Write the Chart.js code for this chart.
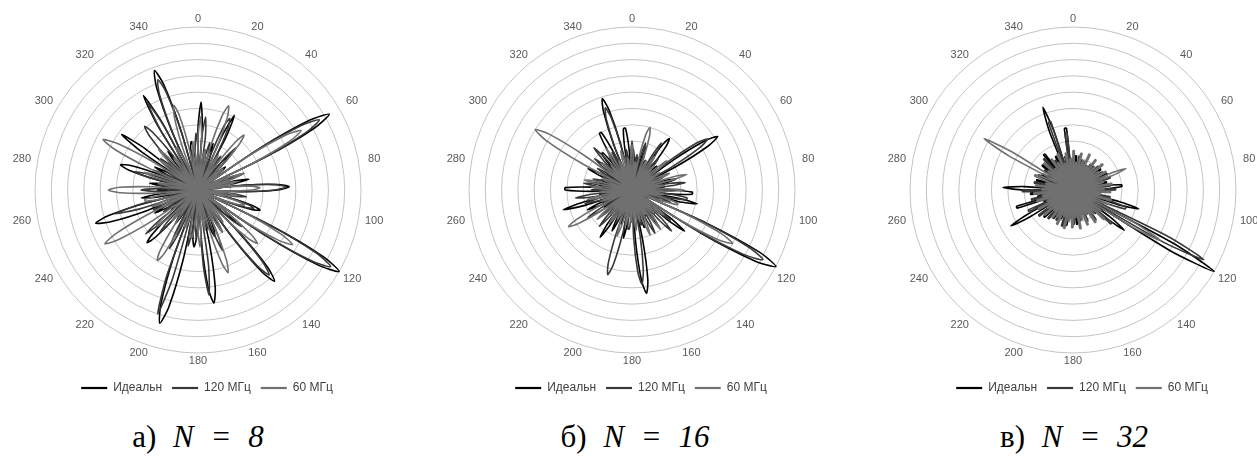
<!DOCTYPE html>
<html>
<head>
<meta charset="utf-8">
<script src="https://cdn.jsdelivr.net/npm/chart.js@4.4.0/dist/chart.umd.min.js"></script>
<style>
  body { margin: 0; width: 1257px; height: 474px; overflow: hidden; background: #fff; position: relative; }
  .plot { position: absolute; top: 0; width: 400px; height: 404px; }
  .cap { position: absolute; top: 419px; width: 300px; text-align: center; font-family: "Liberation Serif", serif; font-size: 31px; word-spacing: 9px; color: #000; line-height: 36px; }
</style>
</head>
<body>
<div class="plot" style="left:-2px"><canvas id="chart8" width="400" height="404"></canvas></div>
<div class="plot" style="left:432px"><canvas id="chart16" width="400" height="404"></canvas></div>
<div class="plot" style="left:873px"><canvas id="chart32" width="400" height="404"></canvas></div>
<div class="cap" style="left:48px">а) <i>N = 8</i></div>
<div class="cap" style="left:485px">б) <i>N = 16</i></div>
<div class="cap" style="left:924px">в) <i>N = 32</i></div>
<script>
// angle labels shown around each plot
const angleTicks = [0, 20, 40, 60, 80, 100, 120, 140, 160, 180, 200, 220, 240, 260, 280, 300, 320, 340];
const seriesNames = ['Идеальн', '120 МГц', '60 МГц'];

// pattern samples every 2 degrees, one row = 20 degrees
const ideal8 = [
  3.8,5.4,3.8,0,1.8,2.5,1.8,0,2.1,3.0,
  2.1,0,3.6,5.1,3.6,0,1.4,2.0,1.4,0,
  2.1,3.0,2.1,0,1.5,2.2,1.5,0,4.7,8.1,
  9.3,8.1,4.7,0,1.8,2.5,1.8,0,2.2,3.2,
  2.2,0,2.8,4.9,5.6,4.9,2.8,0,1.4,2.0,
  1.4,0,2.0,3.5,4.0,3.5,2.0,0,5.0,8.7,
  10,8.7,5.0,0,2.1,3.0,2.1,0,3.7,6.4,
  7.3,6.4,3.7,0,1.8,2.5,1.8,0,1.5,2.6,
  3.0,2.6,1.5,0,3.5,6.1,7.0,6.1,3.5,0,
  1.8,3.0,3.5,3.0,1.8,0,4.3,7.4,8.5,7.4,
  4.3,0,2.1,3.0,2.1,0,1.8,2.5,1.8,0,
  2.3,3.9,4.5,3.9,2.3,0,1.4,2.0,1.4,0,
  2.1,3.0,2.1,0,3.3,5.7,6.6,5.7,3.3,0,
  2.5,3.5,2.5,0,1.8,2.5,1.8,0,2.1,3.0,
  2.1,0,2.5,4.4,5.0,4.4,2.5,0,2.1,3.0,
  2.1,0,4.1,5.8,4.1,0,1.8,2.5,1.8,0,
  2.1,3.0,2.1,0,4.7,6.7,4.7,0,3.9,6.8,
  7.8,6.8,3.9,0,1.5,2.6,3.0,2.6,1.5,0
];
const mhz120_8 = [
  2.5,0,3.2,4.5,3.2,0,2.1,3.0,2.1,0,
  2.4,4.2,4.8,4.2,2.4,0,1.8,2.5,1.8,0,
  2.5,3.5,2.5,0,1.4,2.0,1.4,0,4.3,7.5,
  8.6,7.5,4.3,0,2.1,3.0,2.1,0,1.4,2.0,
  1.4,0,2.7,4.7,5.4,4.7,2.7,0,2.1,3.0,
  2.1,0,1.8,3.1,3.6,3.1,1.8,0,4.7,8.2,
  9.4,8.2,4.7,0,2.5,3.5,2.5,0,3.4,5.9,
  6.8,5.9,3.4,0,2.1,3.0,2.1,0,2.8,4.0,
  2.8,0,1.8,2.5,1.8,0,4.6,6.5,4.6,0,
  2.1,3.0,2.1,0,2.5,3.5,2.5,0,5.6,8.0,
  5.6,0,2.8,4.0,2.8,0,1.4,2.0,1.4,0,
  2.5,3.5,2.5,0,2.9,4.2,2.9,0,1.8,2.5,
  1.8,0,2.1,3.0,2.1,0,3.7,5.3,3.7,0,
  1.4,2.0,1.4,0,2.5,3.5,2.5,0,1.8,2.5,
  1.8,0,2.9,4.1,2.9,0,2.1,3.0,2.1,0,
  1.8,2.5,1.8,0,2.1,3.0,2.1,0,2.6,4.4,
  5.1,4.4,2.6,0,4.3,6.2,4.3,0,3.6,6.3,
  7.2,6.3,3.6,0,1.8,2.5,1.8,0,2.5,3.5
];
const mhz60_8 = [
  3.2,4.5,3.2,0,1.8,2.5,1.8,0,2.8,4.8,
  5.5,4.8,2.8,0,1.8,2.5,1.8,0,2.2,3.8,
  4.4,3.8,2.2,0,1.4,2.0,1.4,0,3.7,6.4,
  7.3,6.4,3.7,0,2.1,3.0,2.1,0,1.8,2.5,
  1.8,0,1.9,3.3,3.8,3.3,1.9,0,1.8,2.5,
  1.8,0,1.5,2.6,3.0,2.6,1.5,0,3.4,5.8,
  6.7,5.8,3.4,0,2.5,4.3,4.9,4.3,2.5,0,
  1.8,2.5,1.8,0,2.1,3.0,2.1,0,2.7,4.7,
  5.4,4.7,2.7,0,1.8,2.5,1.8,0,2.5,3.5,
  2.5,0,1.5,2.6,3.0,2.6,1.5,0,1.5,2.4,
  2.4,1.5,0,2.5,4.4,5.0,4.4,2.5,0,1.8,
  2.5,1.8,0,2.1,3.3,3.3,2.1,0,3.3,5.7,
  6.6,5.7,3.3,0,2.1,3.0,2.1,0,2.1,3.3,
  3.3,2.1,0,2.8,4.8,5.5,4.8,2.8,0,1.8,
  2.5,1.8,0,2.5,3.5,2.5,0,3.3,5.7,6.6,
  5.7,3.3,0,2.1,3.0,2.1,0,2.5,3.5,2.5,
  0,1.8,2.5,1.8,0,1.8,2.9,2.9,1.8,0,
  2.7,4.7,5.4,4.7,2.7,0,2.1,3.0,2.1,0
];

const ideal16 = [
  1.8,2.5,1.8,0,1.4,2.0,1.4,0,2.0,2.8,
  2.0,0,1.3,1.8,1.3,0,2.0,3.4,3.9,3.4,
  2.0,0,1.3,2.1,2.1,1.3,0,3.1,5.4,6.2,
  5.4,3.1,0,1.4,2.0,1.4,0,2.0,2.8,2.0,
  0,1.4,2.0,1.4,0,2.3,3.7,3.7,2.3,0,
  2.9,4.1,2.9,0,1.7,1.7,0,5.0,8.7,10,
  8.7,5.0,0,2.9,4.1,2.9,0,1.4,2.0,1.4,
  0,2.0,2.8,2.0,0,1.3,1.8,1.3,0,1.5,
  2.4,2.4,1.5,0,3.2,5.6,6.4,5.6,3.2,0,
  1.4,2.0,1.4,0,2.1,3.0,2.1,0,1.5,2.2,
  1.5,0,2.0,2.8,2.0,0,2.5,3.5,2.5,0,
  1.3,1.8,1.3,0,1.8,2.5,1.8,0,1.4,2.0,
  1.4,0,2.1,3.0,2.1,0,3.1,4.4,3.1,0,
  1.4,2.0,1.4,0,2.5,4.1,4.1,2.5,0,1.8,
  2.5,1.8,0,1.4,2.0,1.4,0,2.1,3.0,2.1,
  0,1.4,2.0,1.4,0,1.8,2.5,1.8,0,1.8,
  2.9,2.9,1.8,0,2.5,4.0,4.0,2.5,0,3.0,
  5.1,5.9,5.1,3.0,0,2.4,3.8,3.8,2.4,0
];
const mhz120_16 = [
  3.0,2.1,0,1.5,2.2,1.5,0,2.1,3.0,2.1,
  0,1.4,2.0,1.4,0,2.4,3.4,2.4,0,1.8,
  2.5,1.8,0,1.7,1.7,0,2.8,4.9,5.6,4.9,
  2.8,0,1.8,2.5,1.8,0,1.4,2.0,1.4,0,
  2.3,3.3,2.3,0,1.5,2.2,1.5,0,2.1,3.4,
  3.4,2.1,0,1.8,2.5,1.8,0,4.6,7.9,9.1,
  7.9,4.6,0,2.1,3.0,2.1,0,2.5,3.5,2.5,
  0,1.4,2.0,1.4,0,2.1,3.0,2.1,0,1.7,
  1.7,0,2.2,2.2,0,2.9,5.0,5.8,5.0,2.9,
  0,1.5,2.4,2.4,1.5,0,2.7,4.7,5.4,4.7,
  2.7,0,1.5,2.2,1.5,0,1.4,2.0,1.4,0,
  2.1,3.0,2.1,0,1.8,2.5,1.8,0,2.2,3.2,
  2.2,0,1.4,2.0,1.4,0,2.1,3.0,2.1,0,
  2.5,3.5,2.5,0,1.8,2.5,1.8,0,2.1,3.0,
  2.1,0,1.8,2.5,1.8,0,1.4,2.0,1.4,0,
  1.8,2.5,1.8,0,2.1,3.0,2.1,0,2.5,3.5,
  2.5,0,1.8,2.5,1.8,0,2.6,2.6,0,2.7,
  4.6,5.3,4.6,2.7,0,1.8,2.5,1.8,0,2.1
];
const mhz60_16 = [
  2.8,2.0,0,1.7,1.7,0,2.0,3.5,4.0,3.5,
  2.0,0,1.4,2.0,1.4,0,1.8,2.5,1.8,0,
  1.4,2.0,1.4,0,2.0,2.8,2.0,0,1.4,2.0,
  1.4,0,1.8,2.5,1.8,0,2.5,3.5,2.5,0,
  1.4,2.0,1.4,0,2.2,3.2,2.2,0,1.4,2.0,
  1.4,0,1.8,2.9,2.9,1.8,0,3.5,6.1,7.0,
  6.1,3.5,0,1.8,2.5,1.8,0,1.4,2.0,1.4,
  0,2.1,3.0,2.1,0,1.7,1.7,0,2.1,3.0,
  2.1,0,1.4,2.0,1.4,0,1.8,2.5,1.8,0,
  1.4,2.0,1.4,0,1.5,2.2,1.5,0,2.1,3.0,
  2.1,0,1.4,2.0,1.4,0,1.8,2.5,1.8,0,
  1.4,2.0,1.4,0,2.0,2.8,2.0,0,2.3,3.9,
  4.5,3.9,2.3,0,1.4,2.0,1.4,0,2.0,2.8,
  2.0,0,1.4,2.0,1.4,0,1.8,2.5,1.8,0,
  2.1,3.0,2.1,0,1.2,1.9,1.9,1.2,0,3.5,
  6.1,7.0,6.1,3.5,0,1.8,2.5,1.8,0,1.4,
  2.0,1.4,0,2.1,3.0,2.1,0,1.4,2.0,1.4,
  0,1.8,2.5,1.8,0,1.4,2.0,1.4,0,2.0
];

const ideal32 = [
  1.7,0,2.1,2.1,0,1.6,1.6,0,1.9,1.9,
  0,1.4,1.4,0,1.7,1.7,0,1.6,1.6,0,
  1.9,1.9,0,1.4,1.4,0,2.1,2.1,0,1.6,
  1.6,0,2.3,2.3,0,1.7,1.7,0,2.1,2.1,
  0,1.9,3.0,3.0,1.9,0,1.9,1.9,0,1.6,
  1.6,0,2.9,4.2,2.9,0,1.7,1.7,0,7.0,
  10,7.0,0,2.8,4.0,2.8,0,1.4,2.0,1.4,
  0,2.2,2.2,0,1.6,1.6,0,1.9,1.9,0,
  1.3,1.3,0,1.7,1.7,0,2.1,2.1,0,1.4,
  1.4,0,1.7,1.7,0,2.2,2.2,0,1.6,1.6,
  0,1.9,1.9,0,1.4,1.4,0,2.1,2.1,0,
  1.7,1.7,0,2.4,2.4,0,1.7,1.7,0,3.1,
  4.4,3.1,0,1.9,1.9,0,3.6,3.6,0,2.2,
  2.2,0,2.6,2.6,0,3.0,4.3,3.0,0,1.7,
  1.7,0,2.3,2.3,0,1.6,1.6,0,2.1,2.1,
  0,1.7,1.7,0,2.4,2.4,0,1.7,1.7,0,
  2.8,2.8,0,1.9,1.9,0,2.3,2.3,0,3.8,
  5.4,3.8,0,1.7,1.7,0,3.8,3.8,0,1.7
];
const mhz120_32 = [
  1.9,0,1.7,1.7,0,2.1,2.1,0,1.6,1.6,
  0,1.9,1.9,0,1.4,1.4,0,1.9,1.9,0,
  1.6,1.6,0,2.1,2.1,0,1.6,1.6,0,2.1,
  2.1,0,1.7,1.7,0,2.4,2.4,0,1.7,1.7,
  0,2.3,2.3,0,2.6,2.6,0,1.7,1.7,0,
  2.3,2.3,0,2.1,3.4,3.4,2.1,0,6.4,9.1,
  6.4,0,2.2,2.2,0,3.1,3.1,0,1.7,1.7,
  0,2.3,2.3,0,1.7,1.7,0,2.1,2.1,0,
  1.6,1.6,0,1.9,1.9,0,1.4,1.4,0,2.1,
  2.1,0,1.6,1.6,0,1.9,1.9,0,2.3,2.3,
  0,1.6,1.6,0,2.1,2.1,0,1.6,1.6,0,
  2.3,2.3,0,1.7,1.7,0,2.6,2.6,0,1.7,
  1.7,0,3.0,3.0,0,1.9,1.9,0,2.6,2.6,
  0,1.9,1.9,0,3.1,3.1,0,1.7,1.7,0,
  2.4,2.4,0,1.7,1.7,0,2.3,2.3,0,1.7,
  1.7,0,2.1,2.1,0,1.7,1.7,0,2.6,2.6,
  0,1.7,1.7,0,2.1,2.1,0,1.7,1.7,0,
  4.4,4.4,0,2.1,2.1,0,3.5,3.5,0,1.9
];
const mhz60_32 = [
  2.4,2.4,0,1.7,1.7,0,2.3,2.3,0,1.9,
  1.9,0,2.4,2.4,0,1.7,1.7,0,2.3,2.3,
  0,1.9,1.9,0,2.4,2.4,0,1.9,1.9,0,
  2.3,2.3,0,2.5,3.5,2.5,0,1.9,1.9,0,
  2.4,2.4,0,1.9,1.9,0,2.3,2.3,0,1.7,
  1.7,0,2.4,2.4,0,1.7,2.4,1.7,0,4.3,
  6.2,4.3,0,2.1,2.1,0,2.6,2.6,0,1.9,
  1.9,0,2.4,2.4,0,1.7,1.7,0,2.3,2.3,
  0,1.9,1.9,0,2.4,2.4,0,1.7,1.7,0,
  2.3,2.3,0,1.9,1.9,0,2.4,2.4,0,1.7,
  1.7,0,2.3,2.3,0,1.9,1.9,0,2.1,2.1,
  0,1.7,1.7,0,2.3,2.3,0,1.9,1.9,0,
  2.4,2.4,0,1.7,1.7,0,2.3,2.3,0,1.9,
  1.9,0,2.4,2.4,0,1.9,1.9,0,2.3,2.3,
  0,1.7,1.7,0,1.5,2.5,2.5,1.5,0,4.4,
  6.3,4.4,0,1.9,1.9,0,2.4,2.4,0,1.7,
  1.7,0,2.3,2.3,0,1.9,1.9,0,2.4,2.4,
  0,1.7,1.7,0,2.3,2.3,0,1.9,1.9,0
];

const lineColors = ['#000000', '#383838', '#707070'];
// 60 MHz drawn on top, as in the original
const drawOrder = [2, 1, 0];

// categories: one every 2 degrees
const angles = [];
for (let a = 0; a < 360; a += 2) angles.push(String(a));

// angle labels centred just outside the outer ring; legend nudged right
const angleLabelPlugin = {
  id: 'angleLabels',
  afterLayout(chart) {
    chart.legend.left += 9;
    chart.legend.right += 9;
  },
  afterDraw(chart) {
    const scale = chart.scales.r;
    const ctx = chart.ctx;
    ctx.save();
    ctx.font = '11px "Liberation Sans"';
    ctx.fillStyle = '#595959';
    ctx.textAlign = 'center';
    ctx.textBaseline = 'middle';
    chart.data.labels.forEach((label, i) => {
      if (!angleTicks.includes(Number(label))) return;
      const rad = Number(label) * Math.PI / 180;
      const pos = scale.getPointPosition(i, scale.drawingArea + 8 + 8 * Math.abs(Math.sin(rad)));
      ctx.fillText(label, pos.x, pos.y);
    });
    ctx.restore();
  }
};

function makeRadar(id, seriesList) {
  const ctx = document.getElementById(id).getContext('2d');
  new Chart(ctx, {
    type: 'radar',
    data: {
      labels: angles,
      datasets: seriesList.map((values, i) => ({
        label: seriesNames[i],
        data: values,
        order: drawOrder[i],
        borderColor: lineColors[i],
        backgroundColor: lineColors[i],
        borderWidth: 1.6,
        fill: false,
        pointRadius: 0,
        pointHoverRadius: 0,
        tension: 0.25
      }))
    },
    options: {
      responsive: false,
      animation: false,
      layout: { padding: { top: 27, left: 36, right: 36, bottom: 0 } },
      plugins: {
        legend: {
          position: 'bottom',
          title: { display: true, text: '', font: { size: 10 }, padding: { top: 7, bottom: 0 } },
          labels: {
            usePointStyle: true,
            pointStyle: 'line',
            pointStyleWidth: 26,
            color: '#404040',
            font: { family: 'Liberation Sans', size: 12 },
            padding: 10,
            sort: (a, b) => a.datasetIndex - b.datasetIndex,
            generateLabels: (chart) => Chart.defaults.plugins.legend.labels.generateLabels(chart)
              .map(item => Object.assign(item, { lineWidth: 2.2 }))
          }
        },
        tooltip: { enabled: false }
      },
      scales: {
        r: {
          min: 0,
          max: 10,
          ticks: { display: false, stepSize: 1 },
          grid: { circular: true, color: '#c4c4c4', lineWidth: 1 },
          angleLines: { display: false },
          pointLabels: { display: false }
        }
      }
    },
    plugins: [angleLabelPlugin]
  });
}

makeRadar('chart8', [ideal8, mhz120_8, mhz60_8]);
makeRadar('chart16', [ideal16, mhz120_16, mhz60_16]);
makeRadar('chart32', [ideal32, mhz120_32, mhz60_32]);
</script>
</body>
</html>
